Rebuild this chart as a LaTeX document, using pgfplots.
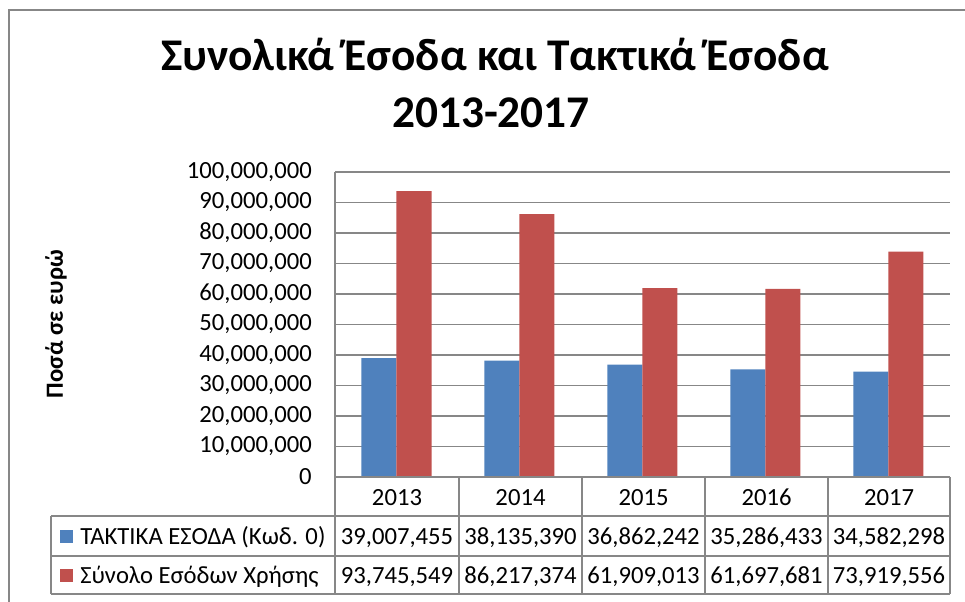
\documentclass[border=0pt]{standalone}
\usepackage{pgfplots}
\pgfplotsset{compat=1.18}
\usepackage{fontspec}
\setmainfont{Carlito}
\definecolor{barblue}{HTML}{4F81BD}
\definecolor{barred}{HTML}{C0504D}
\definecolor{linegray}{HTML}{878787}
\newcommand\tfont{\fontsize{18.5}{22}\selectfont}
\begin{document}
\begin{tikzpicture}
\useasboundingbox (0,0) rectangle (723.75pt,-450.75pt);
\begin{axis}[
  at={(251.25pt,-357.75pt)}, anchor=south west,
  scale only axis, width=461.25pt, height=228.75pt,
  xmin=-0.5, xmax=4.5, ymin=0, ymax=100000000,
  ybar=0pt, bar width=26.25pt,
  xtick=\empty,
  ytick={0,10000000,20000000,30000000,40000000,50000000,60000000,70000000,80000000,90000000,100000000},
  scaled y ticks=false,
  /pgf/number format/assume math mode=true,
  yticklabel style={font=\tfont, anchor=east, inner sep=0pt, xshift=-17.25pt,
    /pgf/number format/fixed, /pgf/number format/precision=0,
    /pgf/number format/1000 sep={,}},
  major tick length=0pt,
  axis line style={draw=none},
  ymajorgrids, grid style={linegray, line width=0.9pt},
]
\addplot[fill=barblue, draw=none] coordinates {(0,39007455) (1,38135390) (2,36862242) (3,35286433) (4,34582298)};
\addplot[fill=barred, draw=none] coordinates {(0,93745549) (1,86217374) (2,61909013) (3,61697681) (4,73919556)};
\end{axis}
\begin{scope}[x=0.75pt,y=-0.75pt]
  % chart border
  \draw[linegray, line width=1.2pt] (9,10) rectangle (990,630);
  % title
  \node[anchor=base, font=\fontsize{34}{40}\selectfont\bfseries, inner sep=0pt] at (495,70) {Συνολικά Έσοδα και Τακτικά Έσοδα};
  \node[anchor=base, font=\fontsize{34}{40}\selectfont\bfseries, inner sep=0pt] at (491,127) {2013-2017};
  % y label
  \node[rotate=90, font=\tfont\bfseries, inner sep=0pt] at (56,324) {Ποσά σε ευρώ};
  % table lines
  \begin{scope}[linegray, line width=1.2pt]
    \draw (335,477) -- (950,477);
    \draw (51,516) -- (950,516);
    \draw (51,556) -- (950,556);
    \draw (51,594) -- (950,594);
    \draw (51,516) -- (51,594);
    \draw (335,172) -- (335,594);
    \foreach \xx in {459,582,705,828,950} \draw (\xx,477) -- (\xx,594);
  \end{scope}
  % years
  \foreach \cx/\yr in {397/2013,520.5/2014,643.5/2015,766.5/2016,889/2017}
    \node[font=\tfont, inner sep=0pt, anchor=base] at (\cx,505) {\yr};
  % legend column
  \fill[barblue] (60,530) rectangle (73,543);
  \fill[barred] (60,569) rectangle (73,582);
  \node[font=\tfont, anchor=base west, inner sep=0pt] at (80,544) {ΤΑΚΤΙΚΑ ΕΣΟΔΑ (Κωδ. 0)};
  \node[font=\tfont, anchor=base west, inner sep=0pt] at (80,583) {Σύνολο Εσόδων Χρήσης};
  % values
  \foreach \cx/\v in {397/{39,007,455},520.5/{38,135,390},643.5/{36,862,242},766.5/{35,286,433},889/{34,582,298}}
    \node[font=\tfont, inner sep=0pt, anchor=base] at (\cx,544) {\v};
  \foreach \cx/\v in {397/{93,745,549},520.5/{86,217,374},643.5/{61,909,013},766.5/{61,697,681},889/{73,919,556}}
    \node[font=\tfont, inner sep=0pt, anchor=base] at (\cx,583) {\v};
\end{scope}
\end{tikzpicture}
\end{document}
